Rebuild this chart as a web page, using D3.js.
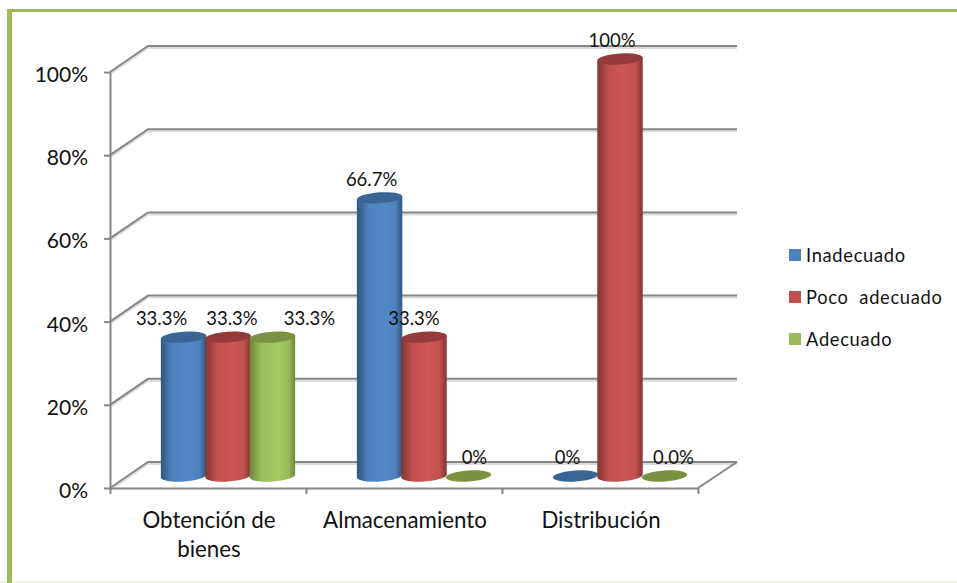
<!DOCTYPE html>
<html>
<head>
<meta charset="utf-8">
<script src="https://cdn.jsdelivr.net/npm/d3@7"></script>
<style>
  html, body { margin: 0; padding: 0; background: #fff; }
  svg { display: block; }
  text { font-family: Lato, "Open Sans", sans-serif; fill: #111; }
  .grid { fill: none; stroke: #868686; stroke-width: 2; }
  .gridshadow { fill: none; stroke: #dcdcdc; stroke-width: 2; }
  .axes path, .axes line { stroke: #868686; stroke-width: 2; }
  .axes text { font-size: 21px; fill: #111; }
</style>
</head>
<body>
<div id="chart"></div>
<script>
// Data
var categories = ["Obtención de bienes", "Almacenamiento", "Distribución"]
var seriesNames = ["Inadecuado", "Poco  adecuado", "Adecuado"]
var inadecuado = [33.3, 66.7, 0]
var pocoAdecuado = [33.3, 33.3, 100]
var adecuado = [33.3, 0, 0]
var labelsInadecuado = ["33.3%", "66.7%", "0%"]
var labelsPoco = ["33.3%", "33.3%", "100%"]
var labelsAdecuado = ["33.3%", "0%", "0.0%"]
var yTicks = [0, 20, 40, 60, 80, 100]

// Colours: legend, cylinder edge, cylinder middle, cylinder top
var colors = [
  {main: "#4f81bd", edge: "#30567f", mid: "#5287c8", top: "#3a6595"},
  {main: "#c0504d", edge: "#823533", mid: "#cf5654", top: "#943b39"},
  {main: "#9bbb59", edge: "#6c883a", mid: "#a5c861", top: "#7a9240"}
]

// Labels were moved by hand in the original, so they sit off their bars
var labelNudge = [[-22, -8, -8], [4, -10, -8], [37, 6, 9]]

var values = [inadecuado, pocoAdecuado, adecuado]
var labels = [labelsInadecuado, labelsPoco, labelsAdecuado]

var width = 957, height = 583

// Fake 3d box
var plotLeft = 110, plotRight = 698, plotBottom = 488, plotTop = 72
var depthX = 38, depthY = -26

var svg = d3.select("#chart")
  .append("svg")
  .attr("width", width)
  .attr("height", height)

// Frame
svg.append("rect").attr("x", 0).attr("y", 581).attr("width", width).attr("height", 2).attr("fill", "#f1f4e2")
svg.append("rect").attr("x", 7).attr("y", 9).attr("width", width - 7).attr("height", 3).attr("fill", "#9bbb59")
svg.append("rect").attr("x", 7).attr("y", 9).attr("width", 5).attr("height", height - 9).attr("fill", "#9bbb59")

// Scales
var y = d3.scaleLinear().domain([0, 100]).range([plotBottom, plotTop])
var xFront = d3.scaleBand().domain(categories).range([plotLeft, plotRight])
var xEdges = d3.scalePoint().domain(d3.range(categories.length + 1)).range([plotLeft, plotRight])

// Cylinders stand in the middle of the floor
var yBar = d3.scaleLinear().domain([0, 100]).range([plotBottom - 12, 59])
var xBar = d3.scaleBand().domain(categories)
  .range([plotLeft + depthX / 2 + 1, plotRight + depthX / 2 + 1])
  .paddingInner(0.32)
  .paddingOuter(0.16)
var xSeries = d3.scaleBand().domain(seriesNames).range([0, xBar.bandwidth()])

// Gridlines on the walls
function wallLine(v) {
  var py = y(v)
  return "M" + plotLeft + "," + py + "L" + (plotLeft + depthX) + "," + (py + depthY) + "L" + (plotRight + depthX + 1) + "," + (py + depthY)
}
var grid = svg.append("g")
grid.selectAll(".gridshadow").data(yTicks).enter().append("path")
  .attr("class", "gridshadow")
  .attr("transform", "translate(0,2)")
  .attr("d", wallLine)
grid.selectAll(".grid").data(yTicks).enter().append("path")
  .attr("class", "grid")
  .attr("d", wallLine)

// Right edge of the floor
svg.append("path")
  .attr("class", "grid")
  .attr("d", "M" + plotRight + "," + plotBottom + "L" + (plotRight + depthX + 1) + "," + (plotBottom + depthY))

// Axes
svg.append("g")
  .attr("class", "axes")
  .attr("transform", "translate(" + plotLeft + ",0)")
  .call(d3.axisLeft(y).tickValues(yTicks).tickFormat(function(d) { return d + "%" }).tickSize(6).tickSizeOuter(0).tickPadding(16))
  .selectAll("text")
  .attr("dy", "0.45em")

svg.append("g")
  .attr("class", "axes")
  .attr("transform", "translate(0," + plotBottom + ")")
  .call(d3.axisBottom(xEdges).tickFormat("").tickSize(6).tickSizeOuter(0))

// Category labels, wrapped like the original
var catLabels = svg.append("g").selectAll("text")
  .data(categories)
  .enter()
  .append("text")
  .attr("text-anchor", "middle")
  .attr("font-size", 22.3)
  .attr("x", function(d) { return xFront(d) + xFront.bandwidth() / 2 + 1 })
  .attr("y", plotBottom + 40)

catLabels.each(function(d) {
  var el = d3.select(this)
  var cx = el.attr("x")
  var parts = d.split(" ")
  var lines = parts.length > 2 ? [parts.slice(0, 2).join(" "), parts.slice(2).join(" ")] : [d]
  lines.forEach(function(line, i) {
    el.append("tspan").attr("x", cx).attr("dy", i == 0 ? 0 : 29).text(line)
  })
})

// Gradients
var defs = svg.append("defs")
colors.forEach(function(c, i) {
  var g = defs.append("linearGradient").attr("id", "cyl" + i)
  g.append("stop").attr("offset", "0%").attr("stop-color", c.edge)
  g.append("stop").attr("offset", "25%").attr("stop-color", c.main)
  g.append("stop").attr("offset", "62%").attr("stop-color", c.mid)
  g.append("stop").attr("offset", "85%").attr("stop-color", c.main)
  g.append("stop").attr("offset", "100%").attr("stop-color", c.edge)
})

// Cylinders
var ry = 5.5, tilt = -4
seriesNames.forEach(function(name, s) {
  var c = colors[s]
  var rows = categories.map(function(cat, i) { return {cat: cat, value: values[s][i]} })
  var g = svg.append("g")

  function cx(d) { return xBar(d.cat) + xSeries(name) + xSeries.bandwidth() / 2 }
  var rx = xSeries.bandwidth() / 2 + 0.5
  var lift = rx * Math.sin(-tilt * Math.PI / 180)

  g.selectAll("path")
    .data(rows.filter(function(d) { return d.value > 0 }))
    .enter()
    .append("path")
    .attr("fill", "url(#cyl" + s + ")")
    .attr("d", function(d) {
      var x0 = cx(d) - rx, x1 = cx(d) + rx
      var yt = yBar(d.value), yb = yBar(0)
      return "M" + x0 + "," + (yt + lift) +
        "L" + x0 + "," + (yb + lift) +
        "A" + rx + "," + ry + " " + tilt + " 0 0 " + x1 + "," + (yb - lift) +
        "L" + x1 + "," + (yt - lift) + "Z"
    })

  g.selectAll("ellipse")
    .data(rows)
    .enter()
    .append("ellipse")
    .attr("rx", rx)
    .attr("ry", ry)
    .attr("fill", c.top)
    .attr("transform", function(d) {
      return "translate(" + cx(d) + "," + yBar(d.value) + ") rotate(" + tilt + ")"
    })

  // Data labels
  g.selectAll("text")
    .data(rows)
    .enter()
    .append("text")
    .attr("text-anchor", "middle")
    .attr("font-size", 18.5)
    .attr("x", function(d, i) { return cx(d) + labelNudge[s][i] })
    .attr("y", function(d) { return yBar(d.value) - 12 })
    .text(function(d, i) { return labels[s][i] })
})

// Legend
var legendX = 789, legendY = 249, legendStep = 42
var legend = svg.append("g").selectAll("g")
  .data(seriesNames)
  .enter()
  .append("g")
  .attr("transform", function(d, i) { return "translate(" + legendX + "," + (legendY + i * legendStep) + ")" })

legend.append("rect")
  .attr("width", 12)
  .attr("height", 12)
  .attr("fill", function(d, i) { return colors[i].main })

legend.append("text")
  .attr("x", 17)
  .attr("y", 12.5)
  .attr("font-size", 18.3)
  .attr("letter-spacing", 0.7)
  .style("white-space", "pre")
  .text(function(d) { return d })
</script>
</body>
</html>
